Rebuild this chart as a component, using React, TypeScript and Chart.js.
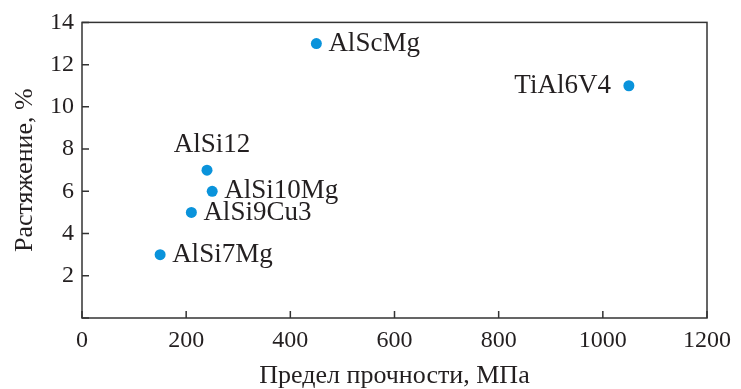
import React, { useEffect, useRef } from "react";
import { Chart, registerables } from "chart.js";

Chart.register(...registerables);

const names = ["AlScMg", "TiAl6V4", "AlSi12", "AlSi10Mg", "AlSi9Cu3", "AlSi7Mg"];
const strength = [450, 1050, 240, 250, 210, 150];
const elongation = [13, 11, 7, 6, 5, 3];
const labelSide = ["right", "left", "top", "right", "right", "right"];

const xTitle = "Предел прочности, МПа";
const yTitle = "Растяжение, %";

const FONT = "'Liberation Serif', 'Times New Roman', serif";
const INK = "#231f20";
const DOT = "#0a93db";

const framePlugin = {
  id: "frame",
  afterDraw(chart: any) {
    const { ctx, chartArea, scales } = chart;
    ctx.save();
    ctx.strokeStyle = "#333333";
    ctx.lineWidth = 1.5;
    ctx.strokeRect(chartArea.left, chartArea.top, chartArea.right - chartArea.left, chartArea.bottom - chartArea.top);
    ctx.beginPath();
    const xs = scales.x;
    xs.ticks.forEach((t: any) => {
      const px = xs.getPixelForValue(t.value);
      ctx.moveTo(px, chartArea.bottom);
      ctx.lineTo(px, chartArea.bottom - 7);
    });
    const ys = scales.y;
    ys.ticks.forEach((t: any) => {
      const py = ys.getPixelForValue(t.value);
      ctx.moveTo(chartArea.left, py);
      ctx.lineTo(chartArea.left + 7, py);
    });
    ctx.stroke();

    // point labels
    const meta = chart.getDatasetMeta(0);
    ctx.fillStyle = INK;
    ctx.font = `27px ${FONT}`;
    ctx.textBaseline = "middle";
    meta.data.forEach((el: any, i: number) => {
      const side = labelSide[i];
      const x = el.x;
      const y = el.y;
      if (side === "right") {
        ctx.textAlign = "left";
        ctx.fillText(names[i], x + 12, y);
      } else if (side === "left") {
        ctx.textAlign = "right";
        ctx.fillText(names[i], x - 18, y);
      } else {
        ctx.textAlign = "center";
        ctx.fillText(names[i], x + 5, y - 25);
      }
    });
    ctx.restore();
  },
};

export default function App() {
  const ref = useRef<HTMLCanvasElement>(null);
  useEffect(() => {
    if (!ref.current) return;
    const chart = new Chart(ref.current, {
      type: "scatter",
      data: {
        datasets: [
          {
            data: strength.map((x, i) => ({ x, y: elongation[i] })),
            backgroundColor: DOT,
            borderColor: DOT,
            pointRadius: 5.5,
            pointHoverRadius: 5.5,
            borderWidth: 0,
          },
        ],
      },
      options: {
        animation: false,
        responsive: true,
        maintainAspectRatio: false,
        layout: { padding: { left: 0, right: 34, top: 20, bottom: 0 } },
        plugins: { legend: { display: false }, tooltip: { enabled: false } },
        scales: {
          x: {
            type: "linear",
            min: 0,
            max: 1200,
            afterFit: (s: any) => {
              s.height = 71;
            },
            ticks: {
              stepSize: 200,
              color: INK,
              padding: 8,
              maxRotation: 0,
              font: { family: FONT, size: 24 },
              callback: (v: any) => String(v),
            },
            grid: { display: false, drawTicks: false },
            border: { display: false },
            title: {
              display: true,
              text: xTitle,
              color: INK,
              font: { family: FONT, size: 26, lineHeight: 1 },
              padding: { top: 0, bottom: 0 },
            },
          },
          y: {
            type: "linear",
            min: 0,
            max: 14,
            afterFit: (s: any) => {
              s.width = 82;
            },
            ticks: {
              stepSize: 2,
              color: INK,
              padding: 8,
              font: { family: FONT, size: 24 },
              callback: (v: any) => (v === 0 ? "" : String(v)),
            },
            grid: { display: false, drawTicks: false },
            border: { display: false },
            title: {
              display: true,
              text: yTitle,
              color: INK,
              font: { family: FONT, size: 26, lineHeight: 1 },
              padding: { top: 12, bottom: 0 },
            },
          },
        },
      },
      plugins: [framePlugin],
    });
    return () => chart.destroy();
  }, []);
  return (
    <div style={{ position: "fixed", left: 0, top: 0, width: 741, height: 389, background: "#fff" }}>
      <canvas ref={ref} />
    </div>
  );
}
